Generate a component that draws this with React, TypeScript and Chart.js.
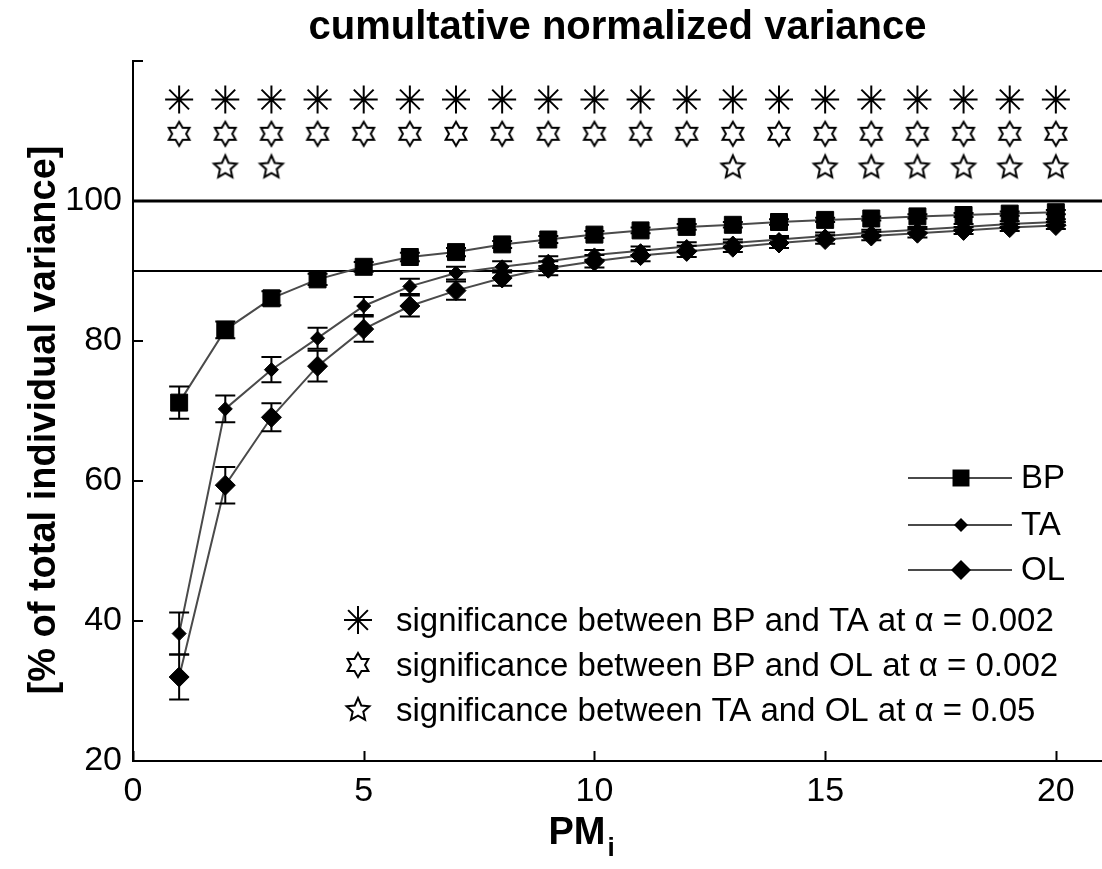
import React, { useEffect, useRef } from 'react';
import { Chart, registerables } from 'chart.js';

Chart.register(...registerables);

// ---------------- data ----------------
const PM_INDEX = [1, 2, 3, 4, 5, 6, 7, 8, 9, 10, 11, 12, 13, 14, 15, 16, 17, 18, 19, 20];

const BP_MEAN = [71.2, 81.6, 86.1, 88.8, 90.6, 92.0, 92.7, 93.8, 94.5, 95.2, 95.8, 96.3, 96.6, 97.0, 97.3, 97.5, 97.8, 98.0, 98.2, 98.4];
const BP_ERR = [2.3, 1.2, 1.0, 0.8, 0.7, 0.6, 0.6, 0.5, 0.5, 0.5, 0.4, 0.4, 0.4, 0.4, 0.3, 0.3, 0.3, 0.3, 0.3, 0.3];

const TA_MEAN = [38.2, 70.3, 75.9, 80.4, 85.0, 87.8, 89.7, 90.6, 91.4, 92.3, 92.9, 93.5, 94.0, 94.5, 95.0, 95.5, 95.9, 96.3, 96.7, 97.0];
const TA_ERR = [3.0, 1.9, 1.8, 1.5, 1.3, 1.1, 0.9, 0.8, 0.7, 0.7, 0.6, 0.6, 0.5, 0.5, 0.5, 0.4, 0.4, 0.4, 0.4, 0.4];

const OL_MEAN = [32.0, 59.4, 69.1, 76.4, 81.7, 85.0, 87.2, 89.0, 90.4, 91.4, 92.2, 92.8, 93.4, 94.0, 94.5, 95.0, 95.4, 95.8, 96.2, 96.5];
const OL_ERR = [3.2, 2.6, 2.0, 2.2, 1.8, 1.5, 1.3, 1.1, 1.0, 0.9, 0.8, 0.8, 0.7, 0.7, 0.6, 0.6, 0.6, 0.5, 0.5, 0.5];

const SERIES_NAMES = ['BP', 'TA', 'OL'];

// PM indices where the difference is significant
const SIG_BP_TA = [1, 2, 3, 4, 5, 6, 7, 8, 9, 10, 11, 12, 13, 14, 15, 16, 17, 18, 19, 20];
const SIG_BP_OL = [1, 2, 3, 4, 5, 6, 7, 8, 9, 10, 11, 12, 13, 14, 15, 16, 17, 18, 19, 20];
const SIG_TA_OL = [2, 3, 13, 15, 16, 17, 18, 19, 20];
const SIG_ROW_LEVELS = [114.5, 109.6, 104.8];
const SIG_LABELS = [
  'significance between BP and TA at \u03b1 = 0.002',
  'significance between BP and OL at \u03b1 = 0.002',
  'significance between TA and OL at \u03b1 = 0.05',
];

const THRESHOLDS = [100, 90];
const X_TICKS = [0, 5, 10, 15, 20];
const Y_TICKS = [20, 40, 60, 80, 100, 120];
const Y_LABELED = [20, 40, 60, 80, 100];

const TITLE = 'cumultative normalized variance';
const Y_TITLE = '[% of total individual variance]';
const X_TITLE_MAIN = 'PM';
const X_TITLE_SUB = 'i';

const FONT = "'Liberation Sans', Arial, sans-serif";
const LINE_COLOR = '#4a4a4a';

// ---------------- marker helpers ----------------
function makeStarCanvas(points: number, outer: number, inner: number, lw: number) {
  const size = Math.ceil(outer * 2 + lw * 2 + 2);
  const c = document.createElement('canvas');
  c.width = size;
  c.height = size;
  const g = c.getContext('2d')!;
  g.translate(size / 2, size / 2);
  g.beginPath();
  for (let k = 0; k < points * 2; k++) {
    const r = k % 2 === 0 ? outer : inner;
    const a = -Math.PI / 2 + (k * Math.PI) / points;
    const px = r * Math.cos(a);
    const py = r * Math.sin(a);
    if (k === 0) g.moveTo(px, py);
    else g.lineTo(px, py);
  }
  g.closePath();
  g.fillStyle = '#fff';
  g.fill();
  g.lineWidth = lw;
  g.strokeStyle = '#000';
  g.lineJoin = 'miter';
  g.stroke();
  return c;
}

function drawAsterisk(ctx: CanvasRenderingContext2D, x: number, y: number, r: number) {
  ctx.save();
  ctx.strokeStyle = '#000';
  ctx.lineWidth = 2;
  ctx.beginPath();
  for (let k = 0; k < 4; k++) {
    const a = (k * Math.PI) / 4;
    ctx.moveTo(x - r * Math.cos(a), y - r * Math.sin(a));
    ctx.lineTo(x + r * Math.cos(a), y + r * Math.sin(a));
  }
  ctx.stroke();
  ctx.restore();
}

function drawMarker(ctx: CanvasRenderingContext2D, style: string, x: number, y: number, r: number) {
  ctx.save();
  ctx.fillStyle = '#000';
  ctx.beginPath();
  if (style === 'rect') {
    const s = Math.SQRT1_2 * r;
    ctx.rect(x - s, y - s, 2 * s, 2 * s);
  } else {
    ctx.moveTo(x, y - r);
    ctx.lineTo(x + r, y);
    ctx.lineTo(x, y + r);
    ctx.lineTo(x - r, y);
    ctx.closePath();
  }
  ctx.fill();
  ctx.restore();
}

export default function App() {
  const canvasRef = useRef<HTMLCanvasElement | null>(null);

  useEffect(() => {
    const canvas = canvasRef.current;
    if (!canvas) return;

    const hexagram = makeStarCanvas(6, 12, 7, 2);
    const pentagram = makeStarCanvas(5, 12, 5.6, 2);

    const series = [
      { name: SERIES_NAMES[0], mean: BP_MEAN, err: BP_ERR, style: 'rect', radius: 12 },
      { name: SERIES_NAMES[1], mean: TA_MEAN, err: TA_ERR, style: 'rectRot', radius: 7 },
      { name: SERIES_NAMES[2], mean: OL_MEAN, err: OL_ERR, style: 'rectRot', radius: 10 },
    ];

    const sigSets = [SIG_BP_TA, SIG_BP_OL, SIG_TA_OL];
    const sigStyles: any[] = ['star', hexagram, pentagram];

    const datasets: any[] = [
      ...series.map((s) => ({
        label: s.name,
        data: PM_INDEX.map((x, i) => ({ x, y: s.mean[i] })),
        borderColor: LINE_COLOR,
        borderWidth: 2,
        pointStyle: s.style,
        pointRadius: s.radius,
        pointBackgroundColor: '#000',
        pointBorderColor: '#000',
        pointBorderWidth: 1,
        tension: 0,
        fill: false,
      })),
      ...sigSets.map((set, k) => ({
        label: SIG_LABELS[k],
        data: set.map((x) => ({ x, y: SIG_ROW_LEVELS[k] })),
        showLine: false,
        pointStyle: sigStyles[k],
        pointRadius: 14,
        pointBorderWidth: 2,
        pointBorderColor: '#000',
        pointBackgroundColor: '#fff',
      })),
    ];

    const decorPlugin = {
      id: 'decor',
      beforeDatasetsDraw(chart: any) {
        const { ctx, chartArea, scales } = chart;
        const y = scales.y;
        ctx.save();
        ctx.strokeStyle = '#000';
        THRESHOLDS.forEach((t, i) => {
          ctx.lineWidth = i === 0 ? 3 : 2;
          const py = y.getPixelForValue(t);
          ctx.beginPath();
          ctx.moveTo(chartArea.left, py);
          ctx.lineTo(chartArea.right, py);
          ctx.stroke();
        });
        ctx.restore();
      },
      afterDatasetsDraw(chart: any) {
        const { ctx, scales } = chart;
        const x = scales.x;
        const y = scales.y;
        ctx.save();
        ctx.strokeStyle = '#000';
        ctx.lineWidth = 2;
        series.forEach((s) => {
          s.mean.forEach((v, i) => {
            const px = x.getPixelForValue(PM_INDEX[i]);
            const top = y.getPixelForValue(v + s.err[i]);
            const bot = y.getPixelForValue(v - s.err[i]);
            ctx.beginPath();
            ctx.moveTo(px, top);
            ctx.lineTo(px, bot);
            ctx.moveTo(px - 10, top);
            ctx.lineTo(px + 10, top);
            ctx.moveTo(px - 10, bot);
            ctx.lineTo(px + 10, bot);
            ctx.stroke();
          });
        });
        ctx.restore();
      },
      afterDraw(chart: any) {
        const { ctx, chartArea, scales } = chart;
        const x = scales.x;
        const y = scales.y;
        ctx.save();
        // inward ticks
        ctx.strokeStyle = '#000';
        ctx.lineWidth = 2;
        ctx.beginPath();
        X_TICKS.forEach((t) => {
          const px = Math.round(x.getPixelForValue(t)) + 0.5;
          ctx.moveTo(px, chartArea.bottom);
          ctx.lineTo(px, chartArea.bottom - 10);
        });
        Y_TICKS.forEach((t) => {
          const py = Math.round(y.getPixelForValue(t));
          ctx.moveTo(chartArea.left, py);
          ctx.lineTo(chartArea.left + 10, py);
        });
        ctx.stroke();

        const cx = (chartArea.left + chartArea.right) / 2;

        // title
        ctx.fillStyle = '#000';
        ctx.textAlign = 'center';
        ctx.textBaseline = 'middle';
        ctx.font = `bold 40px ${FONT}`;
        ctx.fillText(TITLE, cx, 28);

        // y title
        ctx.save();
        ctx.translate(45, 420);
        ctx.rotate(-Math.PI / 2);
        ctx.font = `bold 38px ${FONT}`;
        ctx.fillText(Y_TITLE, 0, 0);
        ctx.restore();

        // x title with subscript
        ctx.textBaseline = 'alphabetic';
        ctx.textAlign = 'left';
        ctx.font = `bold 38px ${FONT}`;
        const wMain = ctx.measureText(X_TITLE_MAIN).width;
        const xl = cx - 69;
        const base = 844;
        ctx.fillText(X_TITLE_MAIN, xl, base);
        ctx.font = `bold 26px ${FONT}`;
        ctx.fillText(X_TITLE_SUB, xl + wMain + 2, base + 12);

        // series legend
        const legRows = [478, 525, 570];
        series.forEach((s, i) => {
          const ly = legRows[i];
          ctx.strokeStyle = LINE_COLOR;
          ctx.lineWidth = 2;
          ctx.beginPath();
          ctx.moveTo(908, ly);
          ctx.lineTo(1012, ly);
          ctx.stroke();
          drawMarker(ctx, s.style, 961, ly, s.radius);
          ctx.fillStyle = '#000';
          ctx.font = `33px ${FONT}`;
          ctx.textBaseline = 'middle';
          ctx.fillText(s.name, 1021, ly + 1);
        });

        // significance legend
        const sigRows = [620, 665, 710];
        sigRows.forEach((ly, k) => {
          if (k === 0) drawAsterisk(ctx, 358, ly, 14);
          else {
            const img = sigStyles[k] as HTMLCanvasElement;
            ctx.drawImage(img, 358 - img.width / 2, ly - img.height / 2);
          }
          ctx.fillStyle = '#000';
          ctx.font = `33px ${FONT}`;
          ctx.textBaseline = 'middle';
          ctx.fillText(SIG_LABELS[k], 396, ly + 2);
        });
        ctx.restore();
      },
    };

    const chart = new Chart(canvas, {
      type: 'line',
      data: { datasets },
      options: {
        animation: false,
        responsive: false,
        devicePixelRatio: 1,
        events: [],
        layout: { autoPadding: false, padding: { left: 0, right: 0, top: 61, bottom: 0 } },
        plugins: {
          legend: { display: false },
          tooltip: { enabled: false },
          title: { display: false },
        },
        scales: {
          x: {
            type: 'linear',
            min: 0,
            max: 21,
            afterBuildTicks: (scale: any) => {
              scale.ticks = X_TICKS.map((v) => ({ value: v }));
            },
            afterFit: (scale: any) => {
              scale.height = 108;
              scale.paddingLeft = 0;
              scale.paddingRight = 0;
            },
            grid: { display: false, drawTicks: false },
            border: { display: true, color: '#000', width: 2 },
            ticks: {
              color: '#000',
              font: { family: FONT, size: 34 },
              padding: 10,
              maxRotation: 0,
              autoSkip: false,
              callback: (v: any) => String(v),
            },
          },
          y: {
            type: 'linear',
            min: 20,
            max: 120,
            afterBuildTicks: (scale: any) => {
              scale.ticks = Y_TICKS.map((v) => ({ value: v }));
            },
            afterFit: (scale: any) => {
              scale.width = 133;
              scale.paddingTop = 0;
              scale.paddingBottom = 0;
            },
            grid: { display: false, drawTicks: false },
            border: { display: true, color: '#000', width: 2 },
            ticks: {
              color: '#000',
              font: { family: FONT, size: 34 },
              padding: 11,
              autoSkip: false,
              callback: (v: any) => (Y_LABELED.includes(Number(v)) ? String(v) : ''),
            },
          },
        },
      } as any,
      plugins: [decorPlugin],
    });

    return () => {
      chart.destroy();
    };
  }, []);

  return (
    <div style={{ position: 'fixed', left: 0, top: 0, width: 1102, height: 869, background: '#fff' }}>
      <canvas ref={canvasRef} width={1102} height={869} />
    </div>
  );
}
